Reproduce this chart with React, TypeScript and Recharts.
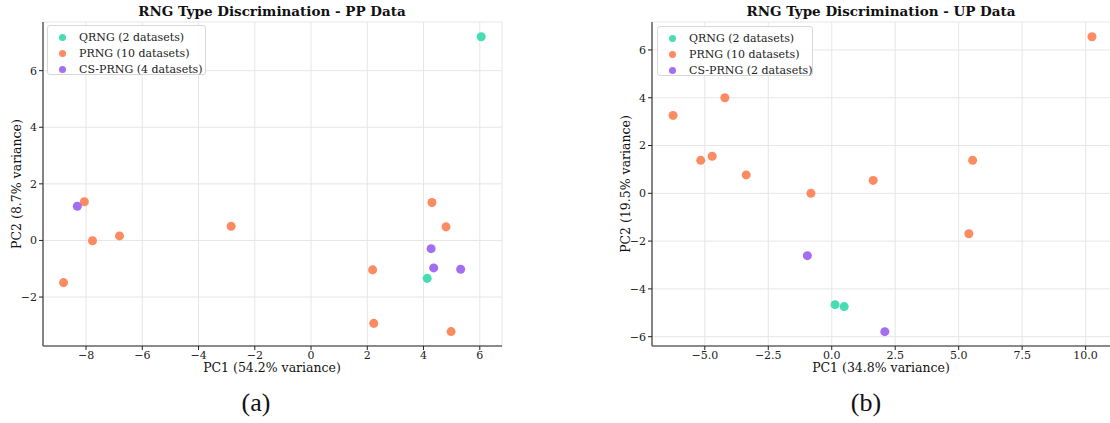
import { ScatterChart, Scatter, XAxis, YAxis, ZAxis, CartesianGrid } from 'recharts';

type Pt = { x: number; y: number };

// PP data (PC1, PC2)
const ppQrng: Pt[] = [{ x: 6.05, y: 7.2 }, { x: 4.13, y: -1.34 }];
const ppPrng: Pt[] = [
  { x: -8.06, y: 1.37 }, { x: -7.77, y: -0.01 }, { x: -6.81, y: 0.16 },
  { x: -8.8, y: -1.49 }, { x: -2.84, y: 0.5 }, { x: 4.3, y: 1.34 },
  { x: 4.8, y: 0.48 }, { x: 2.19, y: -1.04 }, { x: 2.23, y: -2.93 },
  { x: 4.98, y: -3.22 },
];
const ppCsprng: Pt[] = [
  { x: -8.31, y: 1.21 }, { x: 4.27, y: -0.29 }, { x: 4.36, y: -0.97 }, { x: 5.32, y: -1.02 },
];

// UP data (PC1, PC2)
const upQrng: Pt[] = [{ x: 0.13, y: -4.66 }, { x: 0.49, y: -4.74 }];
const upPrng: Pt[] = [
  { x: -6.25, y: 3.26 }, { x: -4.21, y: 4.0 }, { x: -5.16, y: 1.38 },
  { x: -4.71, y: 1.55 }, { x: -3.37, y: 0.77 }, { x: -0.82, y: 0.0 },
  { x: 1.63, y: 0.54 }, { x: 5.55, y: 1.38 }, { x: 10.25, y: 6.55 },
  { x: 5.4, y: -1.69 },
];
const upCsprng: Pt[] = [{ x: -0.96, y: -2.61 }, { x: 2.09, y: -5.79 }];

const ppXTicks = [-8, -6, -4, -2, 0, 2, 4, 6];
const ppYTicks = [-2, 0, 2, 4, 6];
const upXTicks = [-5, -2.5, 0, 2.5, 5, 7.5, 10];
const upYTicks = [-6, -4, -2, 0, 2, 4, 6];

const COLORS = { qrng: '#48dcb2', prng: '#fd8b62', cs: '#a46ef2' };
const SERIF = '"DejaVu Serif", serif';
const minus = (s: string) => s.replace('-', '\u2212');

function Legend({ left, top, width, cs }: { left: number; top: number; width: number; cs: number }) {
  const items = [
    { c: COLORS.qrng, t: 'QRNG (2 datasets)' },
    { c: COLORS.prng, t: 'PRNG (10 datasets)' },
    { c: COLORS.cs, t: `CS-PRNG (${cs} datasets)` },
  ];
  return (
    <div style={{
      position: 'absolute', left, top, width, height: 50, boxSizing: 'border-box',
      border: '1px solid #d8d8d8', borderRadius: 3, background: 'rgba(255,255,255,0.85)',
      fontFamily: SERIF, fontSize: 11, color: '#222',
    }}>
      {items.map((it, i) => (
        <div key={it.t} style={{ position: 'absolute', left: 11, top: 3 + i * 16, height: 16, display: 'flex', alignItems: 'center' }}>
          <span style={{ width: 7, height: 7, borderRadius: '50%', background: it.c, display: 'inline-block' }} />
          <span style={{ marginLeft: 13, whiteSpace: 'nowrap' }}>{it.t}</span>
        </div>
      ))}
    </div>
  );
}

function Panel(props: {
  left: number; width: number; yAxisW: number; right: number;
  xDomain: [number, number]; yDomain: [number, number];
  xTicks: number[]; yTicks: number[]; fmt: (v: number) => string;
  q: Pt[]; p: Pt[]; c: Pt[];
}) {
  const tick = { fill: '#222', fontSize: 11, fontFamily: SERIF };
  return (
    <div style={{ position: 'absolute', left: props.left, top: 0 }}>
      <ScatterChart width={props.width} height={423} margin={{ top: 22, right: props.right, bottom: 52, left: 0 }}>
        <CartesianGrid stroke="#e6e6e6" strokeWidth={1} />
        <ZAxis range={[40, 40]} />
        <XAxis
          type="number" dataKey="x" domain={props.xDomain} ticks={props.xTicks} allowDataOverflow
          height={25} tickSize={4} tickMargin={1} tick={tick} tickFormatter={v => minus(props.fmt(v))}
          axisLine={{ stroke: '#222', strokeWidth: 1.2 }} tickLine={{ stroke: '#222' }} interval={0}
        />
        <XAxis xAxisId="top" orientation="top" type="number" domain={props.xDomain} height={0}
          tick={false} tickLine={false} axisLine={{ stroke: '#555', strokeWidth: 1.2 }} />
        <YAxis
          type="number" dataKey="y" domain={props.yDomain} ticks={props.yTicks} allowDataOverflow
          width={props.yAxisW} tickSize={4} tickMargin={2} tick={tick} tickFormatter={v => minus(String(v))}
          axisLine={{ stroke: '#555', strokeWidth: 1.4 }} tickLine={{ stroke: '#222' }} interval={0}
        />
        <YAxis yAxisId="right" orientation="right" type="number" domain={props.yDomain} width={0}
          tick={false} tickLine={false} axisLine={{ stroke: '#222', strokeWidth: 1.2 }} />
        <Scatter name="PRNG" data={props.p} fill={COLORS.prng} isAnimationActive={false} />
        <Scatter name="CS-PRNG" data={props.c} fill={COLORS.cs} isAnimationActive={false} />
        <Scatter name="QRNG" data={props.q} fill={COLORS.qrng} isAnimationActive={false} />
      </ScatterChart>
    </div>
  );
}

const txt = (extra: React.CSSProperties): React.CSSProperties => ({
  position: 'absolute', fontFamily: SERIF, color: '#111', whiteSpace: 'nowrap', ...extra,
});

export default function App() {
  return (
    <div style={{ position: 'absolute', left: 0, top: 0, width: 1110, height: 423, overflow: 'hidden', background: '#fff' }}>
      <Panel left={0} width={560} yAxisW={43} right={58}
        xDomain={[-9.53, 6.79]} yDomain={[-3.73, 7.72]} xTicks={ppXTicks} yTicks={ppYTicks}
        fmt={v => String(v)} q={ppQrng} p={ppPrng} c={ppCsprng} />
      <Panel left={600} width={511} yAxisW={52} right={0}
        xDomain={[-7.08, 11.0]} yDomain={[-6.39, 7.17]} xTicks={upXTicks} yTicks={upYTicks}
        fmt={v => v.toFixed(1)} q={upQrng} p={upPrng} c={upCsprng} />

      <div style={txt({ left: 272, top: 4, lineHeight: '15px', transform: 'translateX(-50%)', fontSize: 13.5, fontWeight: 'bold' })}>
        RNG Type Discrimination - PP Data
      </div>
      <div style={txt({ left: 881, top: 4, lineHeight: '15px', transform: 'translateX(-50%)', fontSize: 13.5, fontWeight: 'bold' })}>
        RNG Type Discrimination - UP Data
      </div>

      <div style={txt({ left: 272, top: 361, lineHeight: '13px', transform: 'translateX(-50%)', fontSize: 12.5 })}>PC1 (54.2% variance)</div>
      <div style={txt({ left: 881, top: 361, lineHeight: '13px', transform: 'translateX(-50%)', fontSize: 12.5 })}>PC1 (34.8% variance)</div>
      <div style={txt({ left: 16, top: 184, lineHeight: '13px', transform: 'translate(-50%, -50%) rotate(-90deg)', fontSize: 12.5 })}>PC2 (8.7% variance)</div>
      <div style={txt({ left: 625, top: 184, lineHeight: '13px', transform: 'translate(-50%, -50%) rotate(-90deg)', fontSize: 12.5 })}>PC2 (19.5% variance)</div>

      <Legend left={47} top={25} width={159} cs={4} />
      <Legend left={657} top={26} width={156} cs={2} />

      <div style={txt({ left: 256, top: 388, transform: 'translateX(-50%)', fontSize: 26, fontFamily: '"Liberation Serif", serif' })}>(a)</div>
      <div style={txt({ left: 866, top: 388, transform: 'translateX(-50%)', fontSize: 26, fontFamily: '"Liberation Serif", serif' })}>(b)</div>
    </div>
  );
}
